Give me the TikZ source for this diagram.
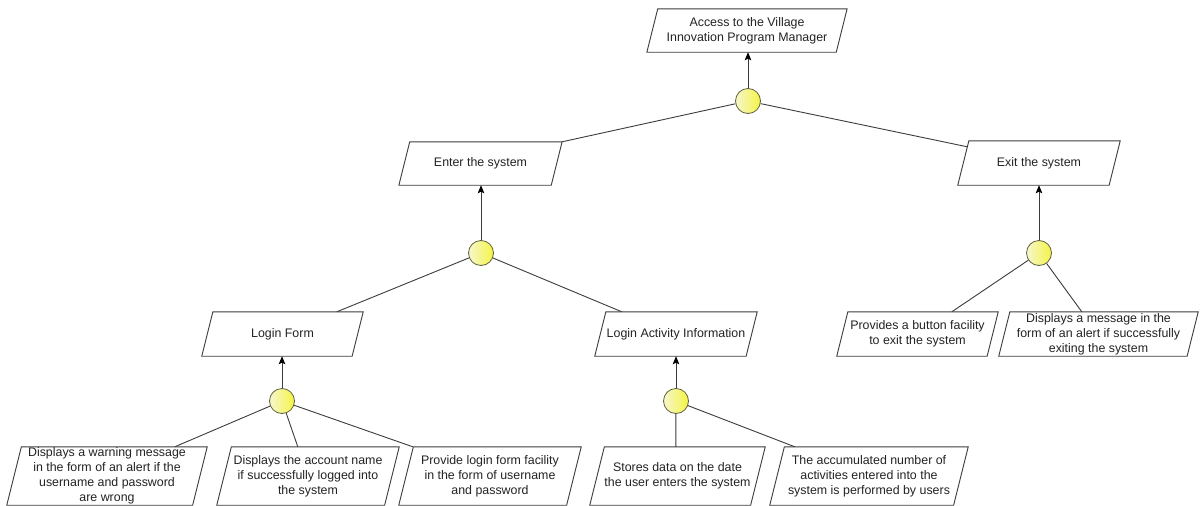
\documentclass[tikz,border=0pt]{standalone}
\usepackage{fontspec}
\setmainfont{Liberation Sans}
\usetikzlibrary{arrows.meta,calc}
\definecolor{lnc}{RGB}{60,60,60}
\definecolor{txc}{RGB}{35,35,35}
\definecolor{ylo}{RGB}{244,244,70}
\definecolor{yhi}{RGB}{246,246,205}
\definecolor{cbd}{RGB}{95,95,60}
\begin{document}
\begin{tikzpicture}[x=1pt,y=-1pt,
  parabox/.style={rectangle, draw=none, inner sep=0pt, align=center, text=txc,
    font=\fontsize{12.4}{15}\selectfont},
  rowa/.style={parabox, minimum height=43pt},
  rowb/.style={parabox, minimum height=44pt},
  rowc/.style={parabox, minimum height=58pt},
  boxline/.style={draw=lnc, line width=0.9pt, line join=miter},
  andnode/.style={circle, draw=cbd, line width=0.8pt, minimum size=25pt, inner sep=0pt,
    left color=yhi, right color=ylo},
  link/.style={draw=lnc, line width=0.9pt},
  uplink/.style={link, -{Stealth[length=8pt,width=6.5pt,inset=1.5pt,color=black]}}
]
\fill[white] (0,0) rectangle (1200,506);
\useasboundingbox (0,0) rectangle (1200,506);

% boxes (text holders)
\node[rowa, minimum width=189pt] (A) at (747,30.5) {Access to the Village\\Innovation Program Manager};
\node[rowa, minimum width=152pt] (E) at (480.5,163.5) {Enter the system};
\node[rowb, minimum width=151pt] (X) at (1039,163) {Exit the system};
\node[rowb, minimum width=150pt] (LF) at (282.5,334) {Login Form};
\node[rowb, minimum width=151pt] (LA) at (676,334) {Login Activity Information};
\node[rowb, minimum width=150pt] (X1) at (917.5,334) {Provides a button facility\\to exit the system};
\node[rowb, minimum width=188pt] (X2) at (1098.5,334) {Displays a message in the\\form of an alert if successfully\\exiting the system};
\node[rowc, minimum width=185.5pt] (B1) at (107,476) {Displays a warning message\\in the form of an alert if the\\username and password\\are wrong};
\node[rowc, minimum width=167.5pt] (B2) at (308,476) {Displays the account name\\if successfully logged into\\the system};
\node[rowc, minimum width=167.5pt] (B3) at (490,476) {Provide login form facility\\in the form of username\\and password};
\node[rowc, minimum width=160.5pt] (B4) at (677.5,476) {Stores data on the date\\the user enters the system};
\node[rowc, minimum width=183.5pt] (B5) at (869,476) {The accumulated number of\\activities entered into the\\system is performed by users};

% parallelogram outlines
\foreach \b in {A,E,X,LF,LA,X1,X2,B1,B2,B3,B4,B5}{
  \draw[boxline] let \p1=(\b.north west), \p2=(\b.south east), \n1={0.125*(\y1-\y2)} in
    (\x1+\n1,\y1) -- (\x2+\n1,\y1) -- (\x2-\n1,\y2) -- (\x1-\n1,\y2) -- cycle;
}

% and-nodes
\node[andnode] (C0) at (748,101) {};
\node[andnode] (C1) at (481,253) {};
\node[andnode] (C2) at (1039,253) {};
\node[andnode] (C3) at (282,401) {};
\node[andnode] (C4) at (676,401) {};

% connectors
\draw[uplink] (C0) -- (C0 |- A.south);
\draw[link] (C0) -- ([xshift=5.4pt]E.north east);
\draw[link] (C0) -- ([xshift=4pt,yshift=-6pt]X.north west);

\draw[uplink] (C1) -- (C1 |- E.south);
\draw[link] (C1) -- ([xshift=129.5pt]LF.north west);
\draw[link] (C1) -- ([xshift=21.5pt]LA.north west);

\draw[uplink] (C2) -- (C2 |- X.south);
\draw[link] (C2) -- ([xshift=109.5pt]X1.north west);
\draw[link] (C2) -- ([xshift=77.5pt]X2.north west);

\draw[uplink] (C3) -- (C3 |- LF.south);
\draw[link] (C3) -- ([xshift=160.75pt]B1.north west);
\draw[link] (C3) -- ([xshift=73.75pt]B2.north west);
\draw[link] (C3) -- ([xshift=6.75pt]B3.north west);

\draw[uplink] (C4) -- (C4 |- LA.south);
\draw[link] (C4) -- ([xshift=78.75pt]B4.north west);
\draw[link] (C4) -- ([xshift=17.75pt]B5.north west);
\end{tikzpicture}
\end{document}
